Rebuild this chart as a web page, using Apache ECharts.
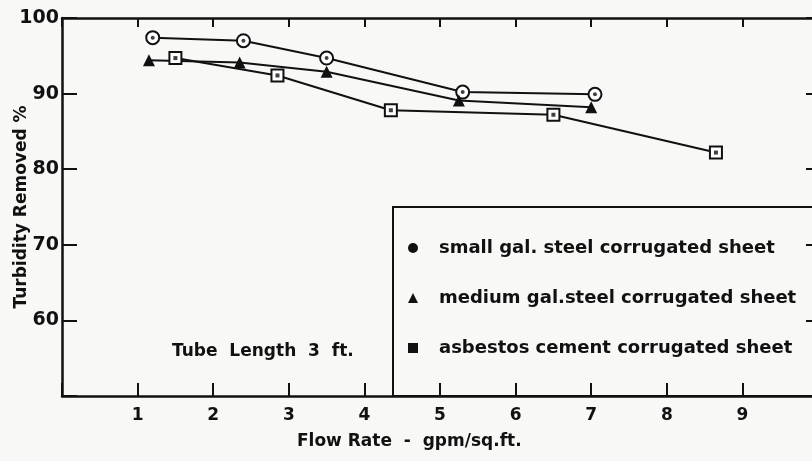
<!DOCTYPE html>
<html>
<head>
<meta charset="utf-8">
<script src="https://cdn.jsdelivr.net/npm/echarts@6/dist/echarts.min.js"></script>
<style>
  html, body { margin: 0; padding: 0; background: #f8f8f6; }
  #chart { width: 812px; height: 461px; }
</style>
</head>
<body>
<div id="chart"></div>
<script>
// data
const seriesNames = [
  'small gal. steel corrugated sheet',
  'medium gal.steel corrugated sheet',
  'asbestos cement corrugated sheet'
]
const smallX = [1.2, 2.4, 3.5, 5.3, 7.05]
const smallY = [97.4, 97.0, 94.7, 90.2, 89.9]
const mediumX = [1.15, 2.35, 3.5, 5.25, 7.0]
const mediumY = [94.4, 94.1, 92.9, 89.1, 88.2]
const asbestosX = [1.5, 2.85, 4.35, 6.5, 8.65]
const asbestosY = [94.7, 92.4, 87.8, 87.2, 82.2]
const xTicks = [1, 2, 3, 4, 5, 6, 7, 8, 9]
const yTicks = [60, 70, 80, 90, 100]

const ink = '#111'
const paper = '#f8f8f6'
const font = 'DejaVu Sans'

const pairs = (xs, ys) => xs.map((x, i) => [x, ys[i]])

const chart = echarts.init(document.getElementById('chart'))

const lineSeries = (name, data, symbol, size) => ({
  name: name,
  type: 'line',
  data: data,
  symbol: symbol,
  symbolSize: size,
  lineStyle: { color: ink, width: 2 },
  itemStyle: { color: ink, borderWidth: 3 },
  z: 5,
})

// small dot in the middle of the hollow markers
const dotSeries = (data, symbol) => ({
  type: 'scatter',
  data: data,
  symbol: symbol,
  symbolSize: 4,
  itemStyle: { color: ink },
  silent: true,
  z: 6,
})

const tickAxis = {
  axisLine: { show: true, onZero: false, lineStyle: { color: ink, width: 2.5 } },
  splitLine: { show: false },
}

chart.setOption({
  animation: false,
  backgroundColor: paper,
  grid: { left: 62, right: -6, top: 18, bottom: 65, outerBoundsMode: 'none', containLabel: false },
  xAxis: [
    {
      ...tickAxis,
      type: 'value',
      min: 0,
      max: 10,
      interval: 1,
      axisTick: { inside: true, length: 13, lineStyle: { color: ink, width: 2 } },
      axisLabel: {
        color: ink, fontFamily: font, fontWeight: 'bold', fontSize: 17, margin: 11,
        formatter: (v) => (xTicks.includes(v) ? String(v) : '')
      },
    },
    {
      ...tickAxis,
      type: 'value',
      position: 'top',
      min: 0,
      max: 10,
      interval: 1,
      axisTick: { show: true, inside: true, length: 9, lineStyle: { color: ink, width: 2 } },
      axisLabel: { show: false },
    },
  ],
  yAxis: [
    {
      ...tickAxis,
      type: 'value',
      min: 50,
      max: 100,
      interval: 10,
      name: 'Turbidity Removed %',
      nameLocation: 'middle',
      nameGap: 32,
      nameMoveOverlap: false,
      nameTextStyle: { color: ink, fontFamily: font, fontWeight: 'bold', fontSize: 17 },
      axisTick: { show: true, inside: true, length: 15, lineStyle: { color: ink, width: 2 } },
      axisLabel: {
        color: ink, fontFamily: font, fontWeight: 'bold', fontSize: 19, margin: 3,
        formatter: (v) => (yTicks.includes(v) ? String(v) : '')
      },
    },
    {
      ...tickAxis,
      type: 'value',
      position: 'right',
      min: 50,
      max: 100,
      interval: 10,
      axisLine: { show: false, onZero: false },
      axisTick: { show: true, inside: true, length: 12, lineStyle: { color: ink, width: 2 } },
      axisLabel: { show: false },
    },
  ],
  legend: {
    orient: 'vertical',
    left: 403,
    top: 234,
    itemGap: 32,
    itemWidth: 10,
    itemHeight: 10,
    data: [
      { name: seriesNames[0], icon: 'circle' },
      { name: seriesNames[1], icon: 'triangle' },
      { name: seriesNames[2], icon: 'rect' },
    ],
    textStyle: { color: ink, fontFamily: font, fontWeight: 'bold', fontSize: 18, padding: [0, 0, 0, 16] },
    itemStyle: { color: ink, borderWidth: 0 },
  },
  graphic: [
    {
      type: 'rect',
      shape: { x: 393, y: 207, width: 430, height: 189 },
      style: { fill: 'transparent', stroke: ink, lineWidth: 2 },
      z: 10,
    },
    {
      type: 'text',
      left: 172,
      top: 343,
      style: { text: 'Tube  Length  3  ft.', fill: ink, font: 'bold 17px "DejaVu Sans"' },
    },
    {
      type: 'text',
      left: 297,
      top: 433,
      style: { text: 'Flow Rate  -  gpm/sq.ft.', fill: ink, font: 'bold 17px "DejaVu Sans"' },
    },
  ],
  series: [
    lineSeries(seriesNames[0], pairs(smallX, smallY), 'emptyCircle', 13),
    lineSeries(seriesNames[1], pairs(mediumX, mediumY), 'triangle', 12),
    lineSeries(seriesNames[2], pairs(asbestosX, asbestosY), 'emptyRect', 12),
    dotSeries(pairs(smallX, smallY), 'circle'),
    dotSeries(pairs(asbestosX, asbestosY), 'rect'),
  ],
})
</script>
</body>
</html>
